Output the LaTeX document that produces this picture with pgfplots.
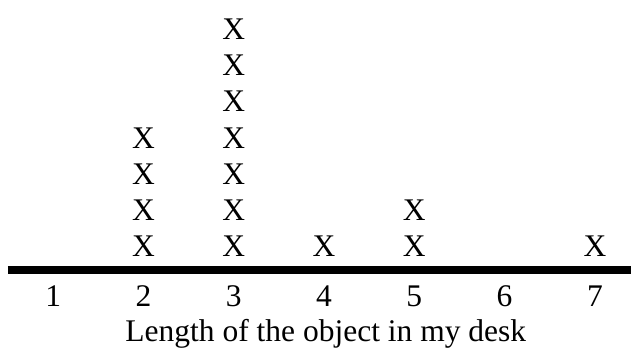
\documentclass[border=0pt]{standalone}
\usepackage{fontspec}
\setmainfont{Liberation Serif}
\usepackage{pgfplots}
\pgfplotsset{compat=1.18}
\newcommand{\bigfont}{\fontsize{31.5}{36}\selectfont}

\begin{document}
\begin{tikzpicture}
\path[use as bounding box] (-8pt,-79pt) rectangle (623pt,270pt);
\begin{axis}[
  at={(0,0)}, anchor=south west,
  scale only axis,
  width=623pt, height=270pt,
  xmin=0.5, xmax=7.4,
  ymin=0.335, ymax=7.814,
  axis x line=bottom,
  axis y line=none,
  x axis line style={-, line width=8pt},
  xtick={1,...,7},
  ytick=\empty,
  major tick length=0pt,
  /pgf/number format/assume math mode=true,
  xticklabel style={font=\bigfont, inner sep=0pt, anchor=center, yshift=-26.5pt},
  clip=false,
]
\addplot[only marks, mark=none,
  nodes near coords={X},
  nodes near coords align={center},
  every node near coord/.style={font=\bigfont, inner sep=0pt, anchor=center, black}]
  coordinates {
    (2,1)(2,2)(2,3)(2,4)
    (3,1)(3,2)(3,3)(3,4)(3,5)(3,6)(3,7)
    (4,1)
    (5,1)(5,2)
    (7,1)
  };
\node[font=\bigfont, anchor=base, inner sep=0pt] at (axis cs:4.02,0.335) [yshift=-71.7pt] {Length of the object in my desk};
\end{axis}
\end{tikzpicture}
\end{document}
